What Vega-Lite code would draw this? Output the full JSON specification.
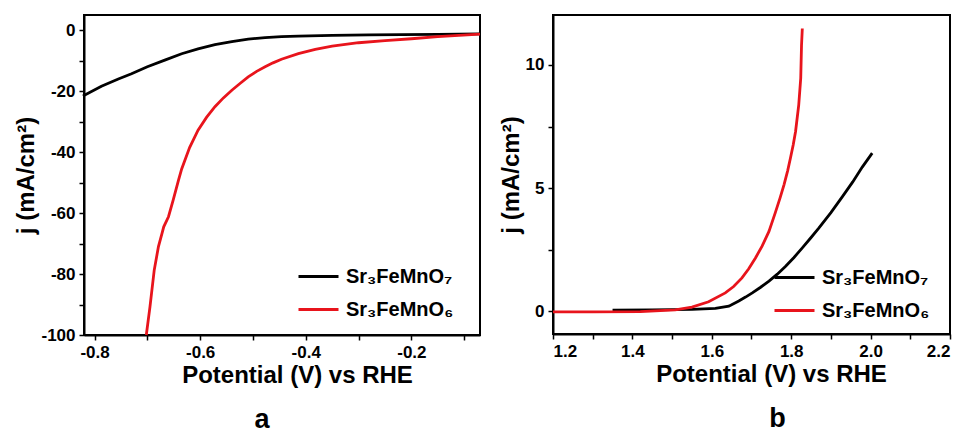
{
  "$schema": "https://vega.github.io/schema/vega-lite/v6.json",
  "background": "white",
  "padding": {"left": 13, "top": 14, "right": 5, "bottom": 5},
  "config": {
    "view": {"stroke": "black", "strokeWidth": 2},
    "font": "Liberation Sans",
    "axis": {
      "grid": false,
      "domainColor": "black",
      "domainWidth": 2,
      "ticks": true,
      "tickColor": "black",
      "tickWidth": 1.5,
      "tickSize": 5,
      "labelFont": "Liberation Sans",
      "labelFontWeight": "bold",
      "labelFontSize": 17,
      "labelColor": "black",
      "labelPadding": 4,
      "titleFont": "Liberation Sans",
      "titleFontWeight": "bold",
      "titleFontSize": 24,
      "titleColor": "black"
    },
    "legend": {
      "orient": "none",
      "title": null,
      "labelFont": "Liberation Sans",
      "labelFontWeight": "bold",
      "labelFontSize": 20,
      "labelColor": "black",
      "symbolType": "stroke",
      "symbolSize": 1600,
      "symbolStrokeWidth": 3,
      "labelOffset": 6,
      "rowPadding": 1,
      "padding": 0
    }
  },
  "data": {
    "values": [
      {"p": "a", "s": "Sr₃FeMnO₇", "x": -0.822, "y": -21.6},
      {"p": "a", "s": "Sr₃FeMnO₇", "x": -0.787, "y": -18.4},
      {"p": "a", "s": "Sr₃FeMnO₇", "x": -0.755, "y": -16.0},
      {"p": "a", "s": "Sr₃FeMnO₇", "x": -0.73, "y": -14.3},
      {"p": "a", "s": "Sr₃FeMnO₇", "x": -0.7, "y": -12.0},
      {"p": "a", "s": "Sr₃FeMnO₇", "x": -0.667, "y": -9.8},
      {"p": "a", "s": "Sr₃FeMnO₇", "x": -0.635, "y": -7.7},
      {"p": "a", "s": "Sr₃FeMnO₇", "x": -0.604, "y": -6.1},
      {"p": "a", "s": "Sr₃FeMnO₇", "x": -0.572, "y": -4.7},
      {"p": "a", "s": "Sr₃FeMnO₇", "x": -0.54, "y": -3.7},
      {"p": "a", "s": "Sr₃FeMnO₇", "x": -0.509, "y": -2.9},
      {"p": "a", "s": "Sr₃FeMnO₇", "x": -0.477, "y": -2.4},
      {"p": "a", "s": "Sr₃FeMnO₇", "x": -0.446, "y": -2.1},
      {"p": "a", "s": "Sr₃FeMnO₇", "x": -0.414, "y": -1.9},
      {"p": "a", "s": "Sr₃FeMnO₇", "x": -0.35, "y": -1.7},
      {"p": "a", "s": "Sr₃FeMnO₇", "x": -0.28, "y": -1.55},
      {"p": "a", "s": "Sr₃FeMnO₇", "x": -0.218, "y": -1.45},
      {"p": "a", "s": "Sr₃FeMnO₇", "x": -0.15, "y": -1.35},
      {"p": "a", "s": "Sr₃FeMnO₇", "x": -0.07, "y": -1.2},
      {"p": "a", "s": "Sr₃FeMnO₆", "x": -0.702, "y": -100},
      {"p": "a", "s": "Sr₃FeMnO₆", "x": -0.695, "y": -90.7},
      {"p": "a", "s": "Sr₃FeMnO₆", "x": -0.687, "y": -78.7},
      {"p": "a", "s": "Sr₃FeMnO₆", "x": -0.679, "y": -71},
      {"p": "a", "s": "Sr₃FeMnO₆", "x": -0.672, "y": -66.5},
      {"p": "a", "s": "Sr₃FeMnO₆", "x": -0.669, "y": -64.5},
      {"p": "a", "s": "Sr₃FeMnO₆", "x": -0.66, "y": -61.2},
      {"p": "a", "s": "Sr₃FeMnO₆", "x": -0.651, "y": -55.7},
      {"p": "a", "s": "Sr₃FeMnO₆", "x": -0.641, "y": -49.2},
      {"p": "a", "s": "Sr₃FeMnO₆", "x": -0.635, "y": -45.5},
      {"p": "a", "s": "Sr₃FeMnO₆", "x": -0.62, "y": -38.5},
      {"p": "a", "s": "Sr₃FeMnO₆", "x": -0.604, "y": -32.8},
      {"p": "a", "s": "Sr₃FeMnO₆", "x": -0.588, "y": -28.6},
      {"p": "a", "s": "Sr₃FeMnO₆", "x": -0.572, "y": -25.1},
      {"p": "a", "s": "Sr₃FeMnO₆", "x": -0.556, "y": -22.2},
      {"p": "a", "s": "Sr₃FeMnO₆", "x": -0.54, "y": -19.7},
      {"p": "a", "s": "Sr₃FeMnO₆", "x": -0.524, "y": -17.4},
      {"p": "a", "s": "Sr₃FeMnO₆", "x": -0.509, "y": -15.3},
      {"p": "a", "s": "Sr₃FeMnO₆", "x": -0.493, "y": -13.5},
      {"p": "a", "s": "Sr₃FeMnO₆", "x": -0.477, "y": -12.0},
      {"p": "a", "s": "Sr₃FeMnO₆", "x": -0.462, "y": -10.7},
      {"p": "a", "s": "Sr₃FeMnO₆", "x": -0.446, "y": -9.5},
      {"p": "a", "s": "Sr₃FeMnO₆", "x": -0.414, "y": -7.7},
      {"p": "a", "s": "Sr₃FeMnO₆", "x": -0.382, "y": -6.3},
      {"p": "a", "s": "Sr₃FeMnO₆", "x": -0.35, "y": -5.2},
      {"p": "a", "s": "Sr₃FeMnO₆", "x": -0.3, "y": -4.1},
      {"p": "a", "s": "Sr₃FeMnO₆", "x": -0.25, "y": -3.4},
      {"p": "a", "s": "Sr₃FeMnO₆", "x": -0.2, "y": -2.8},
      {"p": "a", "s": "Sr₃FeMnO₆", "x": -0.15, "y": -2.1},
      {"p": "a", "s": "Sr₃FeMnO₆", "x": -0.07, "y": -1.3},
      {"p": "b", "s": "Sr₃FeMnO₇", "x": 1.35, "y": 0.04},
      {"p": "b", "s": "Sr₃FeMnO₇", "x": 1.45, "y": 0.05},
      {"p": "b", "s": "Sr₃FeMnO₇", "x": 1.55, "y": 0.07},
      {"p": "b", "s": "Sr₃FeMnO₇", "x": 1.609, "y": 0.11},
      {"p": "b", "s": "Sr₃FeMnO₇", "x": 1.643, "y": 0.2},
      {"p": "b", "s": "Sr₃FeMnO₇", "x": 1.668, "y": 0.41},
      {"p": "b", "s": "Sr₃FeMnO₇", "x": 1.685, "y": 0.57},
      {"p": "b", "s": "Sr₃FeMnO₇", "x": 1.702, "y": 0.74},
      {"p": "b", "s": "Sr₃FeMnO₇", "x": 1.723, "y": 0.97},
      {"p": "b", "s": "Sr₃FeMnO₇", "x": 1.744, "y": 1.22},
      {"p": "b", "s": "Sr₃FeMnO₇", "x": 1.765, "y": 1.5},
      {"p": "b", "s": "Sr₃FeMnO₇", "x": 1.786, "y": 1.82},
      {"p": "b", "s": "Sr₃FeMnO₇", "x": 1.807, "y": 2.18},
      {"p": "b", "s": "Sr₃FeMnO₇", "x": 1.828, "y": 2.57},
      {"p": "b", "s": "Sr₃FeMnO₇", "x": 1.849, "y": 2.97},
      {"p": "b", "s": "Sr₃FeMnO₇", "x": 1.87, "y": 3.38},
      {"p": "b", "s": "Sr₃FeMnO₇", "x": 1.9, "y": 4.0},
      {"p": "b", "s": "Sr₃FeMnO₇", "x": 1.929, "y": 4.65},
      {"p": "b", "s": "Sr₃FeMnO₇", "x": 1.955, "y": 5.25},
      {"p": "b", "s": "Sr₃FeMnO₇", "x": 1.979, "y": 5.85},
      {"p": "b", "s": "Sr₃FeMnO₇", "x": 2.004, "y": 6.42},
      {"p": "b", "s": "Sr₃FeMnO₆", "x": 1.2, "y": -0.03},
      {"p": "b", "s": "Sr₃FeMnO₆", "x": 1.3, "y": -0.03},
      {"p": "b", "s": "Sr₃FeMnO₆", "x": 1.42, "y": -0.02},
      {"p": "b", "s": "Sr₃FeMnO₆", "x": 1.508, "y": 0.05},
      {"p": "b", "s": "Sr₃FeMnO₆", "x": 1.55, "y": 0.16},
      {"p": "b", "s": "Sr₃FeMnO₆", "x": 1.592, "y": 0.38},
      {"p": "b", "s": "Sr₃FeMnO₆", "x": 1.634, "y": 0.74},
      {"p": "b", "s": "Sr₃FeMnO₆", "x": 1.655, "y": 1.0},
      {"p": "b", "s": "Sr₃FeMnO₆", "x": 1.676, "y": 1.35},
      {"p": "b", "s": "Sr₃FeMnO₆", "x": 1.693, "y": 1.72},
      {"p": "b", "s": "Sr₃FeMnO₆", "x": 1.71, "y": 2.16},
      {"p": "b", "s": "Sr₃FeMnO₆", "x": 1.727, "y": 2.65},
      {"p": "b", "s": "Sr₃FeMnO₆", "x": 1.744, "y": 3.24},
      {"p": "b", "s": "Sr₃FeMnO₆", "x": 1.76, "y": 4.0},
      {"p": "b", "s": "Sr₃FeMnO₆", "x": 1.772, "y": 4.6},
      {"p": "b", "s": "Sr₃FeMnO₆", "x": 1.782, "y": 5.14},
      {"p": "b", "s": "Sr₃FeMnO₆", "x": 1.791, "y": 5.7},
      {"p": "b", "s": "Sr₃FeMnO₆", "x": 1.798, "y": 6.21},
      {"p": "b", "s": "Sr₃FeMnO₆", "x": 1.805, "y": 6.75},
      {"p": "b", "s": "Sr₃FeMnO₆", "x": 1.811, "y": 7.3},
      {"p": "b", "s": "Sr₃FeMnO₆", "x": 1.819, "y": 8.38},
      {"p": "b", "s": "Sr₃FeMnO₆", "x": 1.824, "y": 9.46},
      {"p": "b", "s": "Sr₃FeMnO₆", "x": 1.826, "y": 10.8},
      {"p": "b", "s": "Sr₃FeMnO₆", "x": 1.828, "y": 11.48}
    ]
  },
  "spacing": 73,
  "bounds": "flush",
  "hconcat": [
    {
      "width": 396,
      "height": 320,
      "title": {"text": "a", "orient": "bottom", "font": "Liberation Sans", "fontSize": 27, "fontWeight": "bold", "color": "black", "dx": -20, "offset": 20},
      "transform": [{"filter": "datum.p === 'a'"}],
      "encoding": {
        "x": {
          "field": "x", "type": "quantitative",
          "scale": {"domain": [-0.82, -0.07], "nice": false, "zero": false},
          "axis": {
            "title": "Potential (V) vs RHE",
            "titleX": 213,
            "titlePadding": 3,
            "values": [-0.8, -0.7, -0.6, -0.5, -0.4, -0.3, -0.2, -0.1],
            "labelExpr": "abs(datum.value*5 - round(datum.value*5)) < 0.001 ? replace(format(datum.value, '.1f'), '\u2212', '-') : ''"
          }
        },
        "y": {
          "field": "y", "type": "quantitative",
          "scale": {"domain": [-100, 5], "nice": false, "zero": false},
          "axis": {
            "title": "j (mA/cm²)",
            "titlePadding": 2,
            "values": [-100, -90, -80, -70, -60, -50, -40, -30, -20, -10, 0],
            "labelExpr": "abs(datum.value/20 - round(datum.value/20)) < 0.001 ? replace(format(datum.value, 'd'), '\u2212', '-') : ''"
          }
        },
        "color": {
          "field": "s", "type": "nominal",
          "scale": {"domain": ["Sr₃FeMnO₇", "Sr₃FeMnO₆"], "range": ["#000000", "#e8141c"]},
          "legend": {"legendX": 213, "legendY": 240}
        }
      },
      "layer": [
        {"transform": [{"filter": "datum.s === 'Sr₃FeMnO₇'"}], "mark": {"type": "line", "strokeWidth": 2.8}},
        {"transform": [{"filter": "datum.s === 'Sr₃FeMnO₆'"}], "mark": {"type": "line", "strokeWidth": 2.8}}
      ]
    },
    {
      "width": 397,
      "height": 319,
      "title": {"text": "b", "orient": "bottom", "font": "Liberation Sans", "fontSize": 27, "fontWeight": "bold", "color": "black", "dx": 26, "offset": 20},
      "transform": [{"filter": "datum.p === 'b'"}],
      "encoding": {
        "x": {
          "field": "x", "type": "quantitative",
          "scale": {"domain": [1.2, 2.2], "nice": false, "zero": false},
          "axis": {
            "title": "Potential (V) vs RHE",
            "titleX": 218,
            "titlePadding": 3,
            "values": [1.2, 1.3, 1.4, 1.5, 1.6, 1.7, 1.8, 1.9, 2.0, 2.1, 2.2],
            "labelExpr": "abs(datum.value*5 - round(datum.value*5)) < 0.001 ? format(datum.value, '.1f') : ''"
          }
        },
        "y": {
          "field": "y", "type": "quantitative",
          "scale": {"domain": [-0.93, 12.03], "nice": false, "zero": false},
          "axis": {
            "title": "j (mA/cm²)",
            "titlePadding": 2,
            "values": [0, 2.5, 5, 7.5, 10],
            "labelExpr": "abs(datum.value/5 - round(datum.value/5)) < 0.001 ? format(datum.value, 'd') : ''"
          }
        },
        "color": {
          "field": "s", "type": "nominal",
          "scale": {"domain": ["Sr₃FeMnO₇", "Sr₃FeMnO₆"], "range": ["#000000", "#e8141c"]},
          "legend": {"legendX": 220, "legendY": 241}
        }
      },
      "layer": [
        {"transform": [{"filter": "datum.s === 'Sr₃FeMnO₇'"}], "mark": {"type": "line", "strokeWidth": 2.8}},
        {"transform": [{"filter": "datum.s === 'Sr₃FeMnO₆'"}], "mark": {"type": "line", "strokeWidth": 2.8}}
      ]
    }
  ],
  "resolve": {"scale": {"color": "independent"}, "legend": {"color": "independent"}}
}
